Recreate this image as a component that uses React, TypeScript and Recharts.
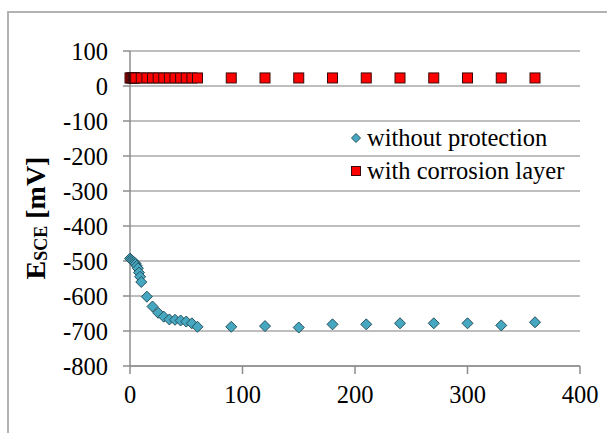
import React from "react";
import {
  ScatterChart,
  Scatter,
  XAxis,
  YAxis,
  CartesianGrid,
} from "recharts";

// time [min] and potential E_SCE [mV]
const timeBare = [0, 1, 2, 3, 4, 5, 6, 7, 8, 9, 10, 15, 20, 25, 30, 35, 40, 45, 50, 55, 60, 90, 120, 150, 180, 210, 240, 270, 300, 330, 360];
const potBare = [-493, -496, -499, -502, -505, -508, -514, -521, -533, -545, -560, -602, -630, -648, -659, -667, -668, -670, -673, -678, -688, -688, -686, -690, -681, -681, -678, -678, -678, -684, -675];

const timeLayer = [0, 1, 2, 3, 4, 5, 10, 15, 20, 25, 30, 35, 40, 45, 50, 55, 60, 90, 120, 150, 180, 210, 240, 270, 300, 330, 360];
const potLayer = [23, 23, 23, 23, 23, 23, 23, 23, 23, 23, 23, 23, 23, 23, 23, 23, 23, 23, 23, 23, 23, 23, 23, 23, 23, 23, 23];

const xTicks = [0, 100, 200, 300, 400];
const yTicks = [100, 0, -100, -200, -300, -400, -500, -600, -700, -800];

const bare = timeBare.map((t, i) => ({ t, e: potBare[i] }));
const layer = timeLayer.map((t, i) => ({ t, e: potLayer[i] }));

const FONT = "'Liberation Serif', 'Times New Roman', Times, serif";
const TEAL = "#45a7c0";
const TEAL_EDGE = "#26505c";
const RED = "#ff0000";
const RED_EDGE = "#3a0a0a";

const Diamond = (p: any) => {
  const r = 5.5;
  return (
    <polygon
      points={`${p.cx},${p.cy - r} ${p.cx + r},${p.cy} ${p.cx},${p.cy + r} ${p.cx - r},${p.cy}`}
      fill={TEAL}
      stroke={TEAL_EDGE}
      strokeWidth={1}
    />
  );
};

const Square = (p: any) => (
  <rect x={p.cx - 5} y={p.cy - 5} width={10} height={10} fill={RED} stroke={RED_EDGE} strokeWidth={1} />
);

const XTick = (p: any) => (
  <text x={p.x} y={p.y + 9} textAnchor="middle" dy="0.72em" style={{ fontFamily: FONT, fontSize: 24.5 }} fill="#000">
    {p.payload.value}
  </text>
);

const YTick = (p: any) => (
  <text x={p.x - 13} y={p.y} textAnchor="end" dy="0.36em" style={{ fontFamily: FONT, fontSize: 24.5 }} fill="#000">
    {p.payload.value}
  </text>
);

const YLabel = () => (
  <text
    x={35}
    y={218}
    transform="rotate(-90, 35, 218)"
    textAnchor="middle"
    dominantBaseline="central"
    style={{ fontFamily: FONT, fontWeight: "bold", fontSize: 28 }}
    fill="#000"
  >
    E
    <tspan fontSize={18} dy={6}>SCE</tspan>
    <tspan dy={-6}> [mV]</tspan>
  </text>
);

const LegendBox = () => (
  <div style={{ fontFamily: FONT, fontSize: 24.5, color: "#000", lineHeight: "33px" }}>
    <div style={{ display: "flex", alignItems: "center" }}>
      <svg width={12} height={12} style={{ marginRight: 5 }}>
        <polygon points="6,1.5 10.5,6 6,10.5 1.5,6" fill={TEAL} stroke={TEAL_EDGE} />
      </svg>
      without protection
    </div>
    <div style={{ display: "flex", alignItems: "center" }}>
      <svg width={12} height={12} style={{ marginRight: 5 }}>
        <rect x={1.5} y={1.5} width={9} height={9} fill={RED} stroke={RED_EDGE} />
      </svg>
      with corrosion layer
    </div>
  </div>
);

export default function App() {
  return (
    <div
      style={{
        position: "absolute",
        left: 0,
        top: 0,
        width: 607,
        height: 433,
        overflow: "hidden",
        background: "#fff",
        fontFamily: FONT,
      }}
    >
      <div
        style={{
          position: "absolute",
          left: 7,
          top: 11,
          width: 700,
          height: 500,
          borderLeft: "2px solid #b3b3b3",
          borderTop: "2px solid #b3b3b3",
        }}
      />
      <div style={{ position: "absolute", left: 0, top: 0 }}>
        <ScatterChart
          width={607}
          height={433}
          margin={{ top: 51, right: 27, bottom: 27, left: 30 }}
        >
          <CartesianGrid vertical={false} stroke="#a9a9a9" strokeWidth={1.5} />
          <XAxis
            type="number"
            dataKey="t"
            domain={[0, 400]}
            ticks={xTicks}
            height={40}
            axisLine={{ stroke: "#8c8c8c", strokeWidth: 1.5 }}
            tickLine={{ stroke: "#8c8c8c", strokeWidth: 1.5 }}
            tickSize={8}
            tick={<XTick />}
          />
          <YAxis
            type="number"
            dataKey="e"
            domain={[-800, 100]}
            ticks={yTicks}
            width={100}
            interval={0}
            axisLine={{ stroke: "#8c8c8c", strokeWidth: 1.5 }}
            tickLine={{ stroke: "#8c8c8c", strokeWidth: 1.5 }}
            tickSize={7}
            tick={<YTick />}
            label={{ content: () => <YLabel /> }}
          />
          <Scatter
            name="without protection"
            data={bare}
            shape={Diamond}
            isAnimationActive={false}
          />
          <Scatter
            name="with corrosion layer"
            data={layer}
            shape={Square}
            isAnimationActive={false}
          />
        </ScatterChart>
      </div>
      <div style={{ position: "absolute", left: 350, top: 121 }}>
        <LegendBox />
      </div>
    </div>
  );
}
